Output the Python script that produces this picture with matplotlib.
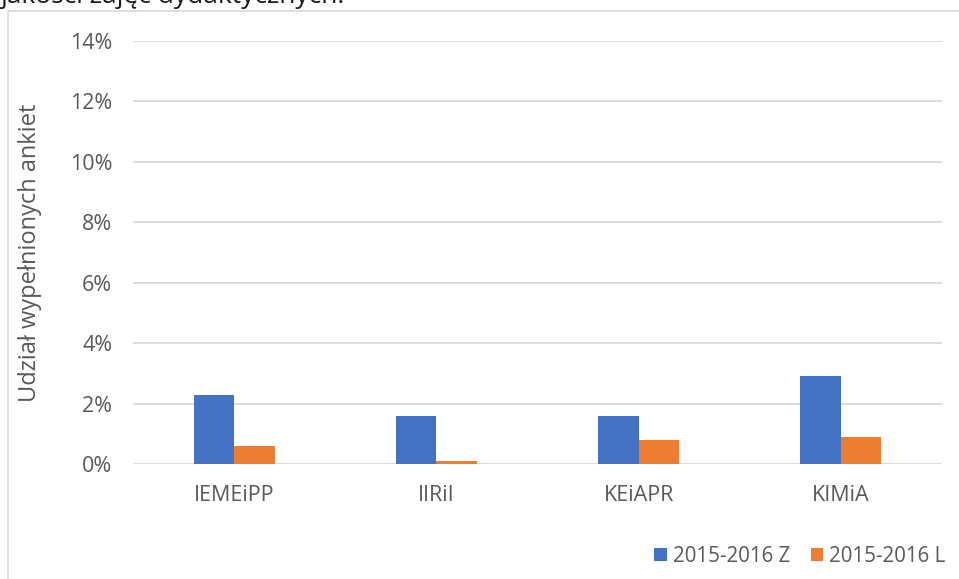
import matplotlib
matplotlib.use("Agg")
import matplotlib.pyplot as plt
from matplotlib.patches import Rectangle
from matplotlib.ticker import FuncFormatter
import numpy as np

categories = ["IEMEiPP", "IIRiI", "KEiAPR", "KIMiA"]
series_names = ["2015-2016 Z", "2015-2016 L"]
winter = [0.023, 0.016, 0.016, 0.029]
summer = [0.006, 0.001, 0.008, 0.009]
y_ticks = [0.0, 0.02, 0.04, 0.06, 0.08, 0.10, 0.12, 0.14]

plt.rcParams["font.family"] = ["Open Sans", "DejaVu Sans"]
TEXT = "#595959"
GRID = "#d9d9d9"
BLUE = "#4472c4"
ORANGE = "#ed7d31"

W, H = 959, 579
fig = plt.figure(figsize=(W / 100, H / 100), dpi=100)

# outer chart frame
fig.add_artist(Rectangle((8 / W, -0.1), 2.0, (H - 11) / H + 0.1, transform=fig.transFigure,
                         fill=False, edgecolor=GRID, linewidth=1.2, clip_on=False))

# heading line running off the top edge
fig.text(0.0, 1 - 3 / H, "jakości zajęć dydaktycznych.", fontsize=19, color="#1a1a1a",
         va="baseline", ha="left")

ax = fig.add_axes([133 / W, (H - 464) / H, (942 - 133) / W, (464 - 41) / H])
x = np.arange(len(categories))
bw = 0.2
ax.bar(x - bw / 2, winter, bw, color=BLUE, label=series_names[0], zorder=3)
ax.bar(x + bw / 2, summer, bw, color=ORANGE, label=series_names[1], zorder=3)

ax.set_xlim(-0.5, len(categories) - 0.5)
ax.set_ylim(0, 0.14)
ax.set_yticks(y_ticks)
ax.yaxis.set_major_formatter(FuncFormatter(lambda v, _: f"{v * 100:.0f}%"))
ax.set_xticks(x)
ax.set_xticklabels(categories)
ax.grid(axis="y", color=GRID, linewidth=1.3, zorder=0)
for s in ax.spines.values():
    s.set_visible(False)
ax.tick_params(axis="both", length=0, colors=TEXT, labelsize=15.5)
ax.tick_params(axis="y", pad=15)
ax.tick_params(axis="x", pad=15)
ax.set_ylabel("Udział wypełnionych ankiet", fontsize=17, color=TEXT, labelpad=20)

leg = fig.legend(loc="lower right", bbox_to_anchor=(964 / W, -6 / H), ncol=2, frameon=False,
                 fontsize=14.8, handlelength=0.6, handleheight=0.6, handletextpad=0.3,
                 columnspacing=1.0, labelcolor=TEXT)

fig.savefig("out.png", dpi=100)
